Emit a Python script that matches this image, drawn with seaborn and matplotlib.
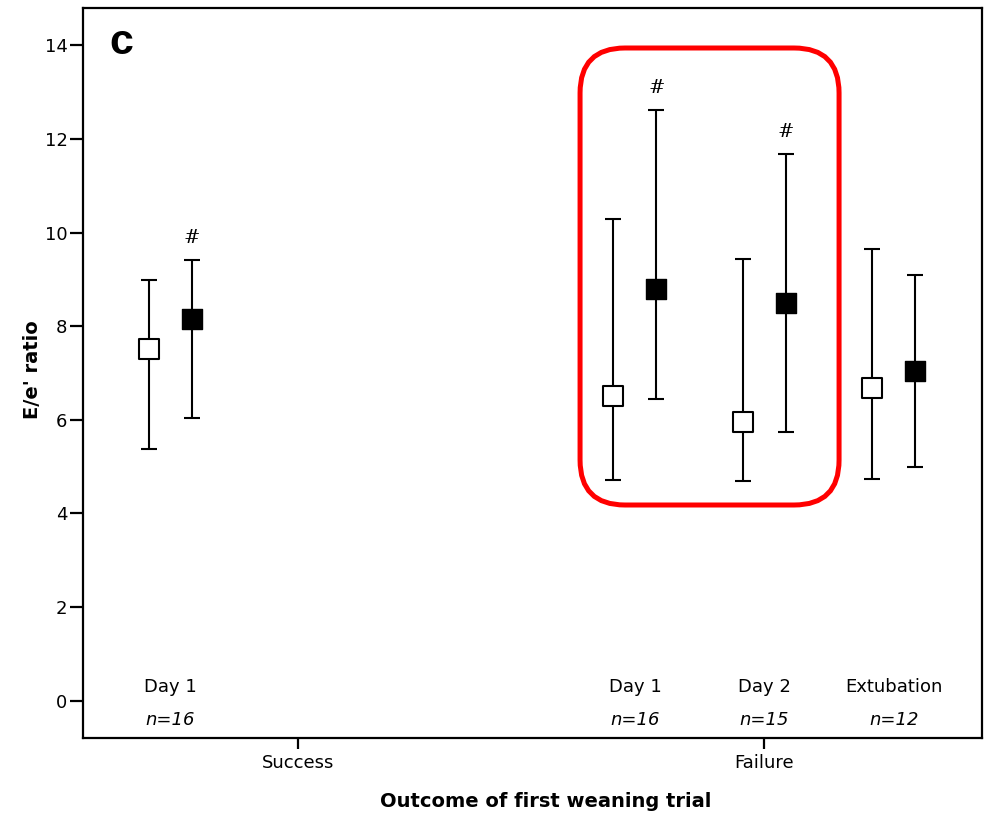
import matplotlib
matplotlib.use("Agg")
import matplotlib.pyplot as plt
from matplotlib.patches import FancyBboxPatch
import numpy as np
import pandas as pd
import seaborn as sns

# E/e' ratio by outcome of first weaning trial (mean and 95% CI)
outcomes = ["Success", "Failure"]
phases = ["Day 1", "Day 1", "Day 2", "Extubation"]
n_counts = [16, 16, 15, 12]

open_mean = [7.51, 6.51, 5.95, 6.68]
open_lo = [5.38, 4.72, 4.69, 4.74]
open_hi = [8.98, 10.29, 9.43, 9.64]

filled_mean = [8.15, 8.79, 8.49, 7.04]
filled_lo = [6.04, 6.44, 5.74, 5.00]
filled_hi = [9.41, 12.61, 11.67, 9.09]

significant = [True, True, True, False]

y_ticks = [0, 2, 4, 6, 8, 10, 12, 14]

# layout: horizontal position of each phase, and of each outcome tick
phase_pos = np.array([0.0, 3.59, 4.59, 5.59])
outcome_pos = [0.99, 4.59]
dodge = 0.166

sns.set_theme(style="white")
plt.rcParams["font.family"] = ["DejaVu Sans"]
plt.rcParams["text.color"] = "black"
plt.rcParams["axes.labelcolor"] = "black"

fig = plt.figure(figsize=(9.86, 8.16), dpi=100)
ax = fig.add_axes([0.0839, 0.096, 0.996 - 0.0839, 0.9898 - 0.096])

df = pd.DataFrame({
    "x": np.concatenate([phase_pos - dodge, phase_pos + dodge]),
    "mean": open_mean + filled_mean,
    "lo": open_lo + filled_lo,
    "hi": open_hi + filled_hi,
    "kind": ["open"] * 4 + ["filled"] * 4,
})

err = np.vstack([df["mean"] - df["lo"], df["hi"] - df["mean"]])
ax.errorbar(df["x"], df["mean"], yerr=err, fmt="none", ecolor="black",
            elinewidth=1.5, capsize=6, capthick=1.5, zorder=2)

sns.scatterplot(data=df[df["kind"] == "open"], x="x", y="mean", ax=ax,
                marker="s", s=190, color="white", edgecolor="black",
                linewidth=1.5, zorder=3, legend=False)
sns.scatterplot(data=df[df["kind"] == "filled"], x="x", y="mean", ax=ax,
                marker="s", s=210, color="black", edgecolor="black",
                linewidth=1.0, zorder=3, legend=False)

# significance marks above the filled series
for xp, hi, sig in zip(phase_pos + dodge, filled_hi, significant):
    if sig:
        ax.text(xp, hi + 0.48, "#", ha="center", va="center", fontsize=14,
                family="DejaVu Serif", color="black")

# phase names and group sizes near the bottom
for xp, ph, n in zip(phase_pos, phases, n_counts):
    ax.text(xp, 0.30, ph, ha="center", va="center", fontsize=13, color="black")
    ax.text(xp, -0.41, f"n={n}", ha="center", va="center", fontsize=13,
            style="italic", color="black")

ax.set_xlim(-0.674, 6.27)
ax.set_ylim(-0.79, 14.79)
ax.set_yticks(y_ticks)
ax.set_yticklabels([str(v) for v in y_ticks], fontsize=13)
ax.set_xticks(outcome_pos)
ax.set_xticklabels(outcomes, fontsize=13)
ax.tick_params(axis="y", direction="out", length=9.5, width=1.6, pad=1.5,
               left=True, colors="black")
ax.tick_params(axis="x", direction="out", length=8, width=1.6, pad=4,
               bottom=True, colors="black")

for side in ["left", "right", "top", "bottom"]:
    ax.spines[side].set_visible(True)
    ax.spines[side].set_color("black")
    ax.spines[side].set_linewidth(1.6)

ax.set_xlabel("Outcome of first weaning trial", fontsize=14, fontweight="bold",
              va="center", color="black")
ax.xaxis.set_label_coords(0.515, -0.088)
ax.set_ylabel("E/e' ratio", fontsize=14, fontweight="bold", va="center",
              color="black")
ax.yaxis.set_label_coords(-0.056, 0.504)

ax.text(0.030, 0.953, "c", transform=ax.transAxes, fontsize=31,
        fontweight="heavy", family="Liberation Sans", ha="left", va="center",
        color="black")

# highlight box around the failure day 1 / day 2 measurements
ax_w, ax_h = 899.3, 729.4
x0, x1 = 0.553, 0.841
y0, y1 = 0.319, 0.9456
box = FancyBboxPatch((x0, y0), x1 - x0, y1 - y0,
                     boxstyle=f"round,pad=0,rounding_size={45 / ax_w:.4f}",
                     mutation_aspect=ax_w / ax_h, transform=ax.transAxes,
                     fill=False, edgecolor="#ff0000", linewidth=3.6,
                     clip_on=False, zorder=4)
ax.add_patch(box)

fig.savefig("out.png", dpi=100)
